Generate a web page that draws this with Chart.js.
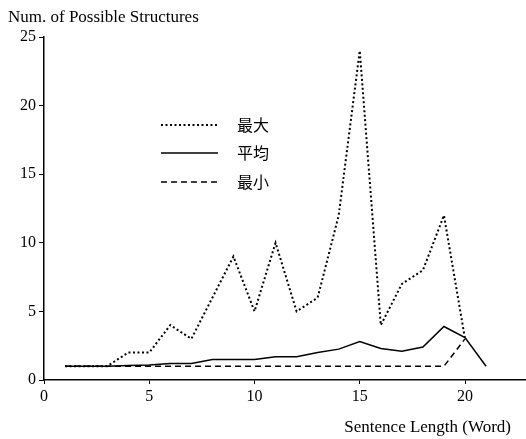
<!DOCTYPE html>
<html lang="ja">
<head>
  <meta charset="UTF-8">
  <title>Num. of Possible Structures</title>
  <script src="https://cdn.jsdelivr.net/npm/chart.js"></script>
  <style>
    body { margin: 0; background: #fff; }
    #wrap { width: 526px; height: 439px; position: relative; }
  </style>
</head>
<body>
  <div id="wrap"><canvas id="structChart"></canvas></div>
  <script>
    // sentence length (words)
    const lengths = [1, 2, 3, 4, 5, 6, 7, 8, 9, 10, 11, 12, 13, 14, 15, 16, 17, 18, 19, 20, 21];
    const maxVals = [1, 1, 1, 2, 2, 4, 3, 6, 9, 5, 10, 5, 6, 12, 24, 4, 7, 8, 12, 3, null];
    const avgVals = [1, 1, 1, 1.05, 1.1, 1.2, 1.2, 1.5, 1.5, 1.5, 1.7, 1.7, 2.0, 2.25, 2.8, 2.3, 2.1, 2.4, 3.9, 3.1, 1];
    const minVals = [1, 1, 1, 1, 1, 1, 1, 1, 1, 1, 1, 1, 1, 1, 1, 1, 1, 1, 1, 3, null];
    const seriesNames = ['最大', '平均', '最小'];
    const xTicks = [0, 5, 10, 15, 20];
    const yTicks = [0, 5, 10, 15, 20, 25];

    const serif = "'Liberation Serif', 'DejaVu Serif', serif";
    const cjk = "'Noto Sans CJK JP', sans-serif";

    function toPoints(vals) {
      return lengths.map((x, i) => ({ x: x, y: vals[i] })).filter(p => p.y !== null);
    }

    const textPlugin = {
      id: 'texts',
      afterDraw(chart) {
        const ctx = chart.ctx;
        ctx.save();
        ctx.fillStyle = '#000';
        ctx.font = '17px ' + serif;
        ctx.textBaseline = 'middle';
        ctx.textAlign = 'left';
        ctx.fillText('Num. of Possible Structures', 8, 18);
        ctx.textAlign = 'right';
        ctx.fillText('Sentence Length (Word)', 511, 428);

        // legend inside the plot
        const rows = [125, 153, 182];
        chart.data.datasets.forEach((ds, i) => {
          const y = rows[i];
          ctx.beginPath();
          ctx.strokeStyle = ds.borderColor;
          ctx.lineWidth = ds.borderWidth;
          ctx.setLineDash(ds.borderDash || []);
          ctx.moveTo(161, y);
          ctx.lineTo(218, y);
          ctx.stroke();
          ctx.setLineDash([]);
          ctx.font = '16px ' + cjk;
          ctx.textAlign = 'left';
          ctx.fillText(ds.label, 237, y);
        });
        ctx.restore();
      }
    };

    new Chart(document.getElementById('structChart'), {
      type: 'line',
      data: {
        datasets: [
          {
            label: seriesNames[0],
            data: toPoints(maxVals),
            borderColor: '#000',
            borderWidth: 2,
            borderDash: [2, 2.5],
            pointRadius: 0,
            tension: 0,
            fill: false
          },
          {
            label: seriesNames[1],
            data: toPoints(avgVals),
            borderColor: '#000',
            borderWidth: 1.5,
            pointRadius: 0,
            tension: 0,
            fill: false
          },
          {
            label: seriesNames[2],
            data: toPoints(minVals),
            borderColor: '#000',
            borderWidth: 1.5,
            borderDash: [6, 4],
            pointRadius: 0,
            tension: 0,
            fill: false
          }
        ]
      },
      options: {
        responsive: true,
        maintainAspectRatio: false,
        animation: false,
        layout: { padding: { top: 37, right: 1, left: 0, bottom: 0 } },
        plugins: {
          legend: { display: false },
          tooltip: { enabled: false }
        },
        scales: {
          x: {
            type: 'linear',
            min: 0,
            max: 22.85,
            afterBuildTicks(axis) { axis.ticks = xTicks.map(v => ({ value: v })); },
            afterFit(axis) { axis.height = 59; },
            grid: { drawOnChartArea: false, drawTicks: true, tickLength: 4, color: '#000' },
            border: { display: true, color: '#000', width: 1.5 },
            ticks: { color: '#000', font: { family: serif, size: 16 }, padding: 3, maxRotation: 0 }
          },
          y: {
            min: 0,
            max: 25,
            afterBuildTicks(axis) { axis.ticks = yTicks.map(v => ({ value: v })); },
            afterFit(axis) { axis.width = 44; },
            grid: { drawOnChartArea: false, drawTicks: true, tickLength: 5, color: '#000' },
            border: { display: true, color: '#000', width: 1.5 },
            ticks: { color: '#000', font: { family: serif, size: 16 }, padding: 3 }
          }
        }
      },
      plugins: [textPlugin]
    });
  </script>
</body>
</html>
